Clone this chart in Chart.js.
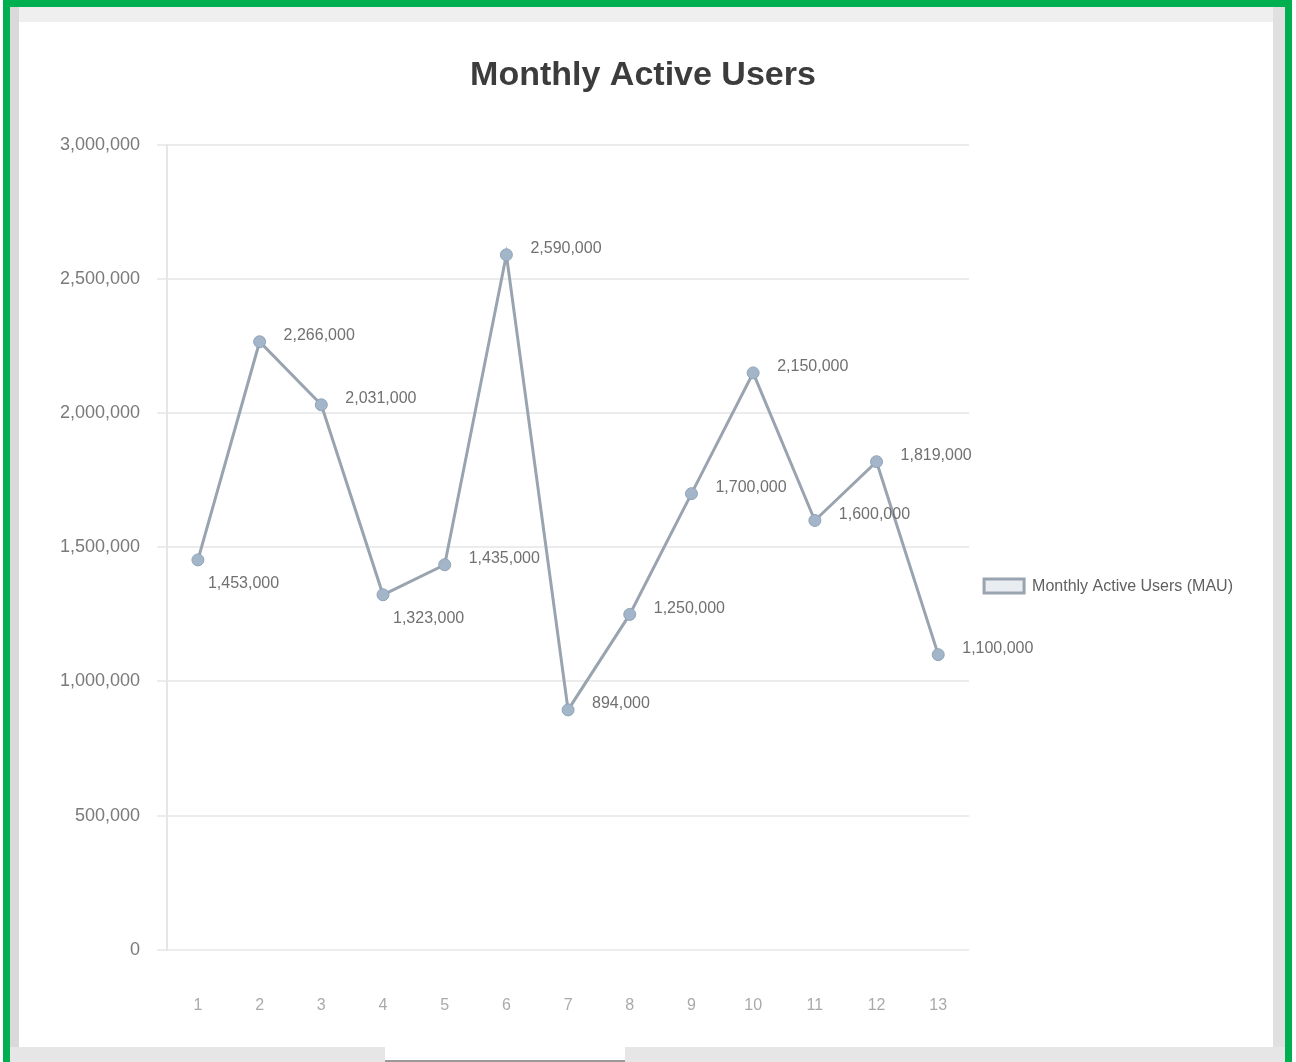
<!DOCTYPE html>
<html><head><meta charset="utf-8">
<script src="https://cdn.jsdelivr.net/npm/chart.js@4.4.1/dist/chart.umd.min.js"></script>
<style>
html,body{margin:0;padding:0;background:#fff;width:1296px;height:1062px;overflow:hidden;font-family:"Liberation Sans",Arial,sans-serif}
#frame{position:absolute;left:3px;top:0;width:1289px;height:1100px;border:7px solid #00b050;border-bottom:none;box-sizing:border-box;z-index:2}
#colhdr{position:absolute;left:10px;top:7px;width:1275px;height:15px;background:#efefef;z-index:2}
#rowhdr{position:absolute;left:10px;top:7px;width:9px;height:1055px;background:#d9d9d9;z-index:2}
#rstrip{position:absolute;left:1273px;top:7px;width:12px;height:1055px;background:#e0e0e0;z-index:2}
#tabs{position:absolute;left:10px;top:1047px;width:1275px;height:15px;background:#e6e6e6;z-index:2}
#tab{position:absolute;left:385px;top:1047px;width:240px;height:13px;background:#fff;border-bottom:2px solid #999;z-index:3}
#wrap{position:absolute;left:19px;top:22px;width:1254px;height:1040px;background:#fff;z-index:1}
</style>
</head>
<body>
<div id="frame"></div>
<div id="colhdr"></div>
<div id="rowhdr"></div>
<div id="rstrip"></div>
<div id="tabs"></div>
<div id="tab"></div>
<div id="wrap"><canvas id="c"></canvas></div>
<script>
// ---- data ----
const chartTitle = 'Monthly Active Users';
const seriesName = 'Monthly Active Users (MAU)';
const categories = ['1','2','3','4','5','6','7','8','9','10','11','12','13'];
const mauValues = [1453000, 2266000, 2031000, 1323000, 1435000, 2590000, 894000, 1250000, 1700000, 2150000, 1600000, 1819000, 1100000];
const yTickValues = [0, 500000, 1000000, 1500000, 2000000, 2500000, 3000000];

// ---- label placement (style only) ----
const labelPlacement = ['below','right','right','below','right','right','right','right','right','right','right','right','right'];

const fmt = v => v.toLocaleString('en-US');
const FONT = '"Liberation Sans", Arial, sans-serif';

const valueLabels = {
  id: 'valueLabels',
  afterDatasetsDraw(chart) {
    const ctx = chart.ctx;
    const meta = chart.getDatasetMeta(0);
    ctx.save();
    ctx.font = '16px ' + FONT;
    ctx.fillStyle = '#707070';
    ctx.textAlign = 'left';
    ctx.textBaseline = 'middle';
    meta.data.forEach((pt, i) => {
      const v = chart.data.datasets[0].data[i];
      if (labelPlacement[i] === 'below') {
        ctx.fillText(fmt(v), pt.x + 10, pt.y + 24);
      } else {
        ctx.fillText(fmt(v), pt.x + 24, pt.y - 6);
      }
    });
    ctx.restore();
  }
};

new Chart(document.getElementById('c'), {
  type: 'line',
  data: {
    labels: categories,
    datasets: [{
      label: seriesName,
      data: mauValues,
      borderColor: '#9aa4b0',
      backgroundColor: '#e9edf2',
      borderWidth: 3,
      tension: 0,
      pointRadius: 6,
      pointBackgroundColor: '#a3b6c9',
      pointBorderColor: '#8fa3b8',
      pointBorderWidth: 1,
      fill: false
    }]
  },
  options: {
    responsive: true,
    maintainAspectRatio: false,
    animation: false,
    layout: { padding: { left: 24, right: 30, top: 0, bottom: 9 } },
    plugins: {
      title: {
        display: true,
        text: chartTitle,
        color: '#3c3c3c',
        font: { size: 34, weight: 'bold', family: FONT },
        padding: { top: 33, bottom: 49 }
      },
      legend: {
        display: true,
        position: 'right',
        title: { display: true, text: ' ', font: { size: 16, family: FONT }, padding: { top: 39, bottom: 39 } },
        labels: {
          color: '#606060',
          boxWidth: 40,
          boxHeight: 14,
          padding: 15,
          font: { size: 16, family: FONT }
        }
      },
      tooltip: { enabled: false }
    },
    scales: {
      x: {
        offset: true,
        grid: { display: false },
        border: { display: false },
        ticks: {
          color: '#aaaaaa',
          padding: 38,
          font: { size: 16, family: FONT }
        }
      },
      y: {
        min: yTickValues[0],
        max: yTickValues[yTickValues.length - 1],
        afterBuildTicks: s => { s.ticks = yTickValues.map(v => ({ value: v })); },
        grid: { color: '#ececec', lineWidth: 2, tickLength: 10 },
        border: { display: true, color: '#e6e6e6', width: 2 },
        ticks: {
          color: '#7a7a7a',
          padding: 17,
          font: { size: 18, family: FONT },
          callback: v => fmt(v)
        }
      }
    }
  },
  plugins: [valueLabels]
});
</script>
</body></html>
